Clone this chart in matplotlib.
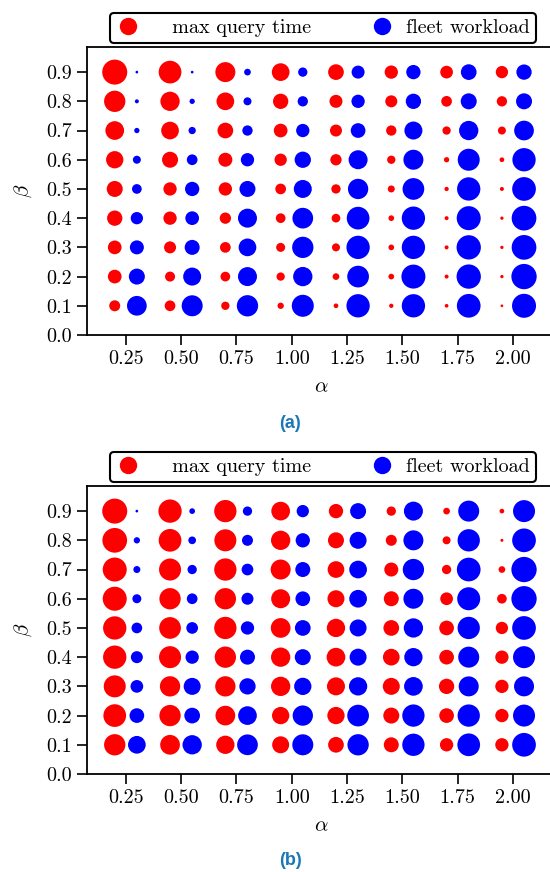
import numpy as np
import matplotlib
matplotlib.use("Agg")
import matplotlib.pyplot as plt
from matplotlib.lines import Line2D
from matplotlib.ticker import FormatStrFormatter

plt.rcParams['font.family'] = ['cmr10', 'DejaVu Serif']
plt.rcParams['mathtext.fontset'] = 'cm'
plt.rcParams['axes.formatter.use_mathtext'] = True

# grid of parameters
alpha = [0.25, 0.50, 0.75, 1.00, 1.25, 1.50, 1.75, 2.00]
beta = [0.9, 0.8, 0.7, 0.6, 0.5, 0.4, 0.3, 0.2, 0.1]  # rows, top to bottom

# marker readings (relative magnitude, rows follow beta)
query_a = [
    [25.0, 22.7, 20.0, 17.7, 15.7, 13.3, 12.7, 12.3],
    [21.3, 19.3, 17.7, 15.3, 13.0, 12.0, 10.7, 10.3],
    [18.7, 17.7, 15.7, 13.7, 12.0, 10.3, 8.3, 8.0],
    [17.3, 16.0, 14.0, 12.3, 11.3, 8.3, 5.3, 4.7],
    [16.0, 13.3, 13.3, 10.7, 9.3, 7.0, 4.3, 4.0],
    [15.3, 13.3, 11.3, 9.7, 8.7, 5.7, 4.0, 3.3],
    [13.7, 12.0, 10.7, 9.0, 8.0, 5.7, 4.0, 3.3],
    [13.7, 10.0, 9.7, 8.3, 6.7, 5.7, 4.0, 3.3],
    [11.0, 10.7, 8.3, 6.3, 4.7, 4.3, 3.7, 2.7],
]
fleet_a = [
    [2.7, 2.7, 6.7, 9.3, 13.0, 14.3, 15.7, 15.3],
    [4.0, 5.3, 8.0, 10.3, 13.3, 15.3, 16.0, 16.0],
    [5.3, 7.3, 10.3, 13.3, 14.7, 18.0, 19.3, 19.7],
    [8.0, 10.7, 13.3, 16.3, 19.0, 20.0, 22.0, 23.3],
    [9.7, 14.3, 16.0, 18.0, 20.3, 21.7, 23.3, 23.7],
    [12.3, 13.7, 19.0, 20.7, 22.7, 23.3, 24.0, 24.7],
    [14.0, 15.0, 17.7, 21.3, 23.3, 23.3, 24.3, 24.7],
    [16.0, 18.0, 19.0, 19.3, 21.7, 24.0, 24.3, 25.3],
    [19.7, 21.0, 21.3, 22.0, 23.3, 23.3, 23.7, 24.0],
]
query_b = [
    [25.0, 23.3, 22.3, 18.7, 14.3, 9.3, 6.7, 4.7],
    [24.7, 22.7, 22.0, 19.3, 16.0, 11.0, 8.0, 3.0],
    [24.0, 22.0, 22.3, 20.0, 16.7, 14.0, 9.3, 6.7],
    [24.0, 21.3, 21.3, 19.0, 17.0, 15.0, 12.7, 9.7],
    [23.3, 21.7, 22.3, 19.7, 18.3, 15.7, 14.7, 12.3],
    [23.3, 22.0, 21.3, 19.3, 18.7, 16.7, 14.7, 13.3],
    [22.0, 20.3, 20.3, 19.3, 18.0, 17.0, 15.3, 13.3],
    [22.7, 21.3, 19.7, 17.3, 17.3, 16.0, 14.7, 13.3],
    [21.3, 19.7, 18.3, 17.0, 15.7, 15.0, 13.3, 13.3],
]
fleet_b = [
    [2.7, 5.7, 9.3, 12.3, 16.0, 19.0, 21.0, 22.0],
    [6.3, 7.7, 11.0, 14.3, 17.0, 20.0, 22.3, 23.7],
    [7.0, 9.3, 11.7, 15.0, 17.7, 21.3, 23.7, 25.3],
    [9.0, 10.7, 12.0, 14.7, 17.7, 20.0, 23.0, 25.3],
    [10.7, 11.7, 13.3, 15.7, 17.0, 19.3, 22.3, 23.7],
    [12.0, 13.3, 15.0, 16.0, 17.0, 18.3, 21.0, 22.0],
    [12.7, 17.0, 16.3, 17.3, 18.3, 18.7, 20.0, 20.0],
    [14.7, 15.7, 18.7, 20.3, 21.7, 22.3, 22.3, 22.0],
    [17.7, 19.3, 20.7, 21.0, 21.3, 22.3, 22.7, 23.7],
]

labels = ['max query time', 'fleet workload']
panel_tags = ['(a)', '(b)']


def to_area(v):
    # reading -> scatter area in pt^2
    return (np.asarray(v) * 0.72) ** 2


def draw_panel(ax, query, fleet):
    A, B = np.meshgrid(alpha, beta)
    ax.scatter(A - 0.05, B, s=to_area(query), c='red', linewidths=0)
    ax.scatter(A + 0.05, B, s=to_area(fleet), c='blue', linewidths=0)
    ax.set_xlim(0.076, 2.19)
    ax.set_ylim(0, 0.987)
    ax.set_xticks(alpha)
    ax.set_yticks(np.arange(0, 1.0, 0.1))
    ax.xaxis.set_major_formatter(FormatStrFormatter('%.2f'))
    ax.yaxis.set_major_formatter(FormatStrFormatter('%.1f'))
    ax.tick_params(labelsize=14.5, length=7, width=1.2, pad=4, direction='out')
    for sp in ax.spines.values():
        sp.set_linewidth(1.3)
    ax.spines['right'].set_visible(False)  # cut off in the original
    ax.set_xlabel(r'$\alpha$', fontsize=15, labelpad=7)
    ax.set_ylabel(r'$\beta$', fontsize=15, labelpad=9)
    handles = [Line2D([], [], ls='', marker='o', ms=12.5, color='red', mew=0),
               Line2D([], [], ls='', marker='o', ms=12.5, color='blue', mew=0)]
    leg = ax.legend(handles, ['   ' + labels[0], labels[1]], ncol=2, loc='lower center',
                    bbox_to_anchor=(0.504, 1.012), borderaxespad=0, fontsize=14.5,
                    frameon=True, fancybox=True, edgecolor='black', framealpha=1,
                    handlelength=1.2, handletextpad=0.6, columnspacing=2.9,
                    borderpad=0.3)
    leg.get_frame().set_linewidth(1.5)


fig = plt.figure(figsize=(5.5, 8.72), dpi=100)
ax1 = fig.add_axes([87.3 / 550, 1 - 335 / 872, (555 - 87.3) / 550, 288.3 / 872])
ax2 = fig.add_axes([87.3 / 550, 1 - 774 / 872, (555 - 87.3) / 550, 288.3 / 872])

draw_panel(ax1, query_a, fleet_a)
draw_panel(ax2, query_b, fleet_b)

fig.text(290 / 550, 1 - 423 / 872, panel_tags[0], ha='center', va='center',
         fontsize=13, fontweight='bold', color='#1a78b8', family='Liberation Sans')
fig.text(290 / 550, 1 - 860 / 872, panel_tags[1], ha='center', va='center',
         fontsize=13, fontweight='bold', color='#1a78b8', family='Liberation Sans')

fig.savefig('out.png', dpi=100)
